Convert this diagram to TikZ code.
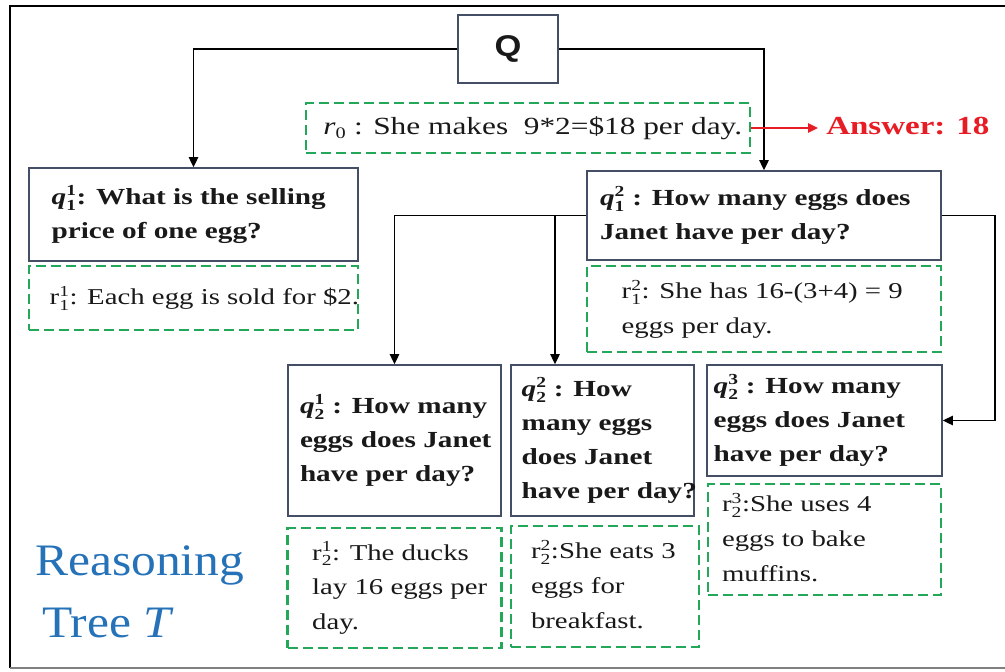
\documentclass[tikz,border=0pt]{standalone}
\usepackage{fontspec}
\setmainfont[FakeStretch=1.27]{Liberation Serif}
\newfontfamily\bigserif[FakeStretch=1.1]{Liberation Serif}
\newfontfamily\qsans[FakeStretch=1.15]{Liberation Sans}
\usetikzlibrary{arrows.meta}
\definecolor{boxc}{RGB}{68,78,100}
\definecolor{grn}{RGB}{34,168,88}
\definecolor{ansred}{RGB}{232,28,36}
\definecolor{tblue}{RGB}{38,114,184}
\definecolor{txt}{RGB}{25,25,25}
\newcommand\scsz{\fontsize{11.5}{12}\selectfont}
\newcommand\subsup[2]{\ensuremath{^{\mbox{\scsz #2}}_{\mbox{\scsz #1}}}}
\newcommand\bx[3]{\makebox[#1][l]{\hspace*{#2}\begin{tabular}{@{}l@{}}#3\end{tabular}}}
\tikzset{
  qbox/.style={draw=boxc, line width=1.2pt, rectangle, inner sep=0pt, text=txt,
    font=\fontsize{17.25}{25.5}\selectfont\bfseries},
  rbox/.style={draw=grn, line width=1.9pt, dash pattern=on 7.5pt off 3.75pt, rectangle, inner sep=0pt,
    text=txt, font=\fontsize{17}{26}\selectfont},
  conn/.style={line width=1.1pt, -{Triangle[length=7.5pt,width=7pt]}},
  ansarrow/.style={ansred, line width=1.5pt, -{Triangle[length=7.5pt,width=7pt]}},
}
\begin{document}
\begin{tikzpicture}[x=0.75pt,y=-0.75pt]
\useasboundingbox (0,0) rectangle (1005,671);
% frame
\draw[line width=2pt] (1005,6) -- (10,6) -- (10,668);
\draw[gray, line width=0.8pt] (10,668) -- (1005,668);

% Q
\node[qbox, minimum width=75pt, minimum height=51pt, font=\fontsize{22.5}{26}\selectfont\qsans\bfseries] (Q) at (508,49) {Q};

% r0
\node[rbox, minimum width=333pt, minimum height=37.5pt, font=\fontsize{18.5}{26}\selectfont] (r0) at (528,128)
  {\bx{333pt}{13pt}{{\itshape r}\ensuremath{_{\mbox{\fontsize{12}{12}\selectfont 0}}} : She makes\ \ 9*2=\$18 per day.}};
\node[anchor=west, inner sep=0pt, text=ansred, font=\fontsize{19.5}{24}\selectfont\bfseries] (ans) at (826,126) {Answer: 18};

% level 1
\node[qbox, minimum width=246.75pt, minimum height=69.75pt] (q11) at (193.5,214.5)
  {\bx{246.75pt}{17pt}{{\itshape q}\subsup{1}{1}: What is the selling\\price of one egg?}};
\node[rbox, minimum width=246.75pt, minimum height=48pt] (r11) at (193.5,298)
  {\bx{246.75pt}{15.5pt}{r\subsup{1}{1}: Each egg is sold for \$2.}};
\node[qbox, minimum width=265.5pt, minimum height=66.75pt] (q12) at (764,215.5)
  {\bx{265.5pt}{9.75pt}{{\itshape q}\subsup{1}{2} : How many eggs does\\Janet have per day?}};
\node[rbox, minimum width=265.5pt, minimum height=64.5pt] (r12) at (764,309)
  {\bx{265.5pt}{26pt}{r\subsup{1}{2}: She has 16-(3+4) = 9\\eggs per day.}};

% level 2
\node[qbox, minimum width=159.75pt, minimum height=113.25pt] (q21) at (394.5,440.5)
  {\bx{159.75pt}{9pt}{{\itshape q}\subsup{2}{1} : How many\\eggs does Janet\\have per day?}};
\node[qbox, minimum width=137.25pt, minimum height=113.25pt] (q22) at (602.5,440.5)
  {\bx{137.25pt}{8pt}{{\itshape q}\subsup{2}{2} : How\\many eggs\\does Janet\\have per day?}};
\node[qbox, minimum width=176.25pt, minimum height=83.25pt] (q23) at (824.5,420.5)
  {\bx{176.25pt}{5pt}{{\itshape q}\subsup{2}{3} : How many\\eggs does Janet\\have per day?}};
\node[rbox, minimum width=160.5pt, minimum height=90pt] (r21) at (394.5,588)
  {\bx{160.5pt}{18.5pt}{r\subsup{2}{1}: The ducks\\lay 16 eggs per\\day.}};
\node[rbox, minimum width=141pt, minimum height=90.75pt] (r22) at (605,586.5)
  {\bx{141pt}{15pt}{r\subsup{2}{2}:She eats 3\\eggs for\\breakfast.}};
\node[rbox, minimum width=174.75pt, minimum height=83.25pt] (r23) at (824.5,539.5)
  {\bx{174.75pt}{10.5pt}{r\subsup{2}{3}:She uses 4\\eggs to bake\\muffins.}};

% title
\node[anchor=base west, inner sep=0pt, text=tblue, font=\fontsize{33.75}{46}\selectfont\bigserif] (t1) at (35,575) {Reasoning};
\node[anchor=base west, inner sep=0pt, text=tblue, font=\fontsize{33.75}{46}\selectfont\bigserif] (t2) at (42,637) {Tree {\itshape T}};

% connectors
\draw[conn] (Q.west) -| (q11.north);
\draw[conn] (Q.east) -| (q12.north);
\draw[ansarrow, shorten >=6pt] (r0.east) -- (r0.east -| ans.west);
\draw[conn] (q12.west) -| (q21.north);
\coordinate (br) at (555,215.5);
\draw[conn] (br) -- (br |- q22.north);
\coordinate (rt) at (995,215.5);
\draw[conn] (q12.east) -- (rt) |- (q23.east);
\end{tikzpicture}
\end{document}
